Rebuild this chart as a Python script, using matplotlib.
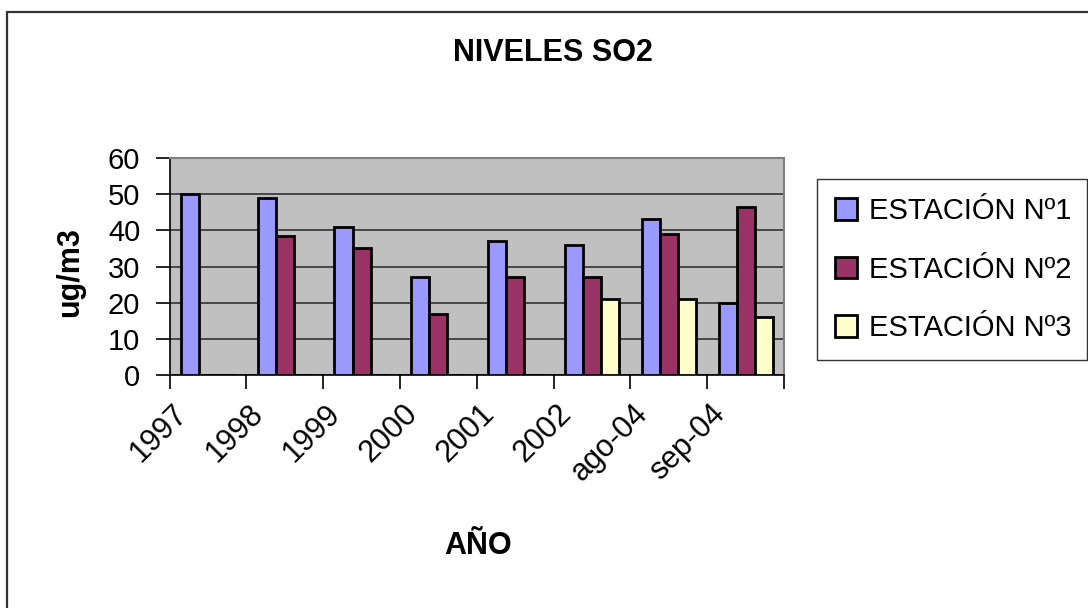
import matplotlib
matplotlib.use("Agg")
import matplotlib.pyplot as plt
import matplotlib.transforms as mtransforms
from matplotlib.patches import Rectangle, Patch
import numpy as np

plt.rcParams['font.family'] = ['Liberation Sans', 'DejaVu Sans']

categories = ["1997", "1998", "1999", "2000", "2001", "2002", "ago-04", "sep-04"]
estacion1 = [50, 49, 41, 27, 37, 36, 43, 20]
estacion2 = [0, 38.5, 35, 17, 27, 27, 39, 46.5]
estacion3 = [0, 0, 0, 0, 0, 21, 21, 16]
series_names = ["ESTACIÓN Nº1", "ESTACIÓN Nº2", "ESTACIÓN Nº3"]
colors = ["#9999FF", "#993366", "#FFFFCC"]

fig = plt.figure(figsize=(10.88, 6.08), dpi=100)
W, H = 1088, 608
ax = fig.add_axes([169.5 / W, 1 - 375 / H, (784 - 169.5) / W, (375 - 158) / H])
ax.set_facecolor("#C0C0C0")

x = np.arange(len(categories))
bw = 0.235
for i, (vals, c) in enumerate(zip([estacion1, estacion2, estacion3], colors)):
    ax.bar(x + (i - 1) * bw, vals, width=bw, color=c, edgecolor="black",
           linewidth=2, zorder=3)

ax.set_xlim(-0.5, len(categories) - 0.5)
ax.set_ylim(0, 60)
ax.set_yticks(np.arange(0, 61, 10))
ax.yaxis.grid(True, color="#333333", linewidth=1.2, zorder=1)
ax.set_axisbelow(True)

ax.set_xticks(x)
ax.set_xticklabels(categories, rotation=45, ha="right", va="top",
                   rotation_mode="anchor", fontsize=22)
ax.set_xticks(np.arange(-0.5, len(categories), 1), minor=True)
ax.tick_params(axis="x", which="major", length=0, pad=17)
ax.tick_params(axis="x", which="minor", length=10, width=1.2, direction="out",
               color="black")
ax.tick_params(axis="y", length=10, width=1.2, direction="out", labelsize=21,
               pad=11, color="black")
offset = mtransforms.ScaledTranslation(-36 / 100, 0, fig.dpi_scale_trans)
for lbl in ax.get_xticklabels():
    lbl.set_transform(lbl.get_transform() + offset)

for s in ["top", "right"]:
    ax.spines[s].set_color("#808080")
    ax.spines[s].set_linewidth(1.5)
for s in ["left", "bottom"]:
    ax.spines[s].set_color("black")
    ax.spines[s].set_linewidth(1.2)

fig.text(553 / W, 1 - 53 / H, "NIVELES SO2", fontsize=22, fontweight="bold",
         ha="center", va="center")
fig.text(478 / W, 1 - 546 / H, "AÑO", fontsize=22, fontweight="bold",
         ha="center", va="center")
fig.text(70 / W, 1 - 272 / H, "ug/m3", fontsize=22, fontweight="bold",
         ha="center", va="center", rotation=90)

handles = [Patch(facecolor=c, edgecolor="black", linewidth=2) for c in colors]
leg = fig.legend(handles, series_names, loc="upper left",
                 bbox_to_anchor=(817 / W, 1 - 351 / H, (1087 - 817) / W, (351 - 179) / H),
                 mode="expand", fontsize=21, frameon=True, fancybox=False,
                 edgecolor="black", borderaxespad=0, borderpad=0.62,
                 handlelength=0.76, handleheight=0.76, handletextpad=0.4,
                 labelspacing=1.05)
leg.get_frame().set_linewidth(1.0)
leg.get_frame().set_facecolor("white")

frame = Rectangle((7 / W, -0.1), 1.2, 1 - 12 / H + 0.1, transform=fig.transFigure,
                  fill=False, edgecolor="#333333", linewidth=1.6)
fig.patches.append(frame)

fig.savefig("out.png", dpi=100)
